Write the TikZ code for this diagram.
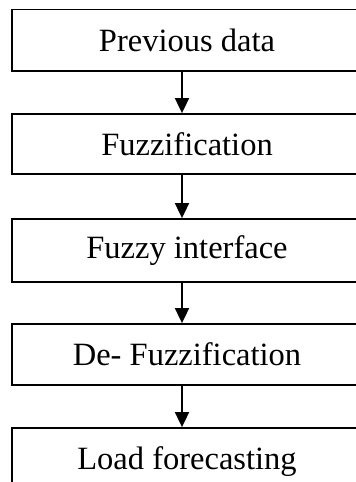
\documentclass[tikz,border=0pt]{standalone}
\usepackage{fontspec}
\setmainfont{Liberation Serif}
\usetikzlibrary{arrows.meta}
\begin{document}
\begin{tikzpicture}[x=1pt,y=-1pt,
  stepbox/.style={draw=black, line width=1.8pt, minimum width=350pt, inner sep=0pt,
    font=\fontsize{32.5}{38}\selectfont, anchor=center},
  flow/.style={line width=1.8pt, -{Triangle[width=14pt,length=15pt]}}]
\useasboundingbox (0,0) rectangle (356,482);
\clip (0,0) rectangle (356,482);
\node[stepbox, minimum height=61.5pt] (b1) at (187,40.25) {Previous data};
\node[stepbox, minimum height=60pt] (b2) at (187,144) {Fuzzification};
\node[stepbox, minimum height=63pt] (b3) at (187,250.5) {Fuzzy interface};
\node[stepbox, minimum height=61pt] (b4) at (187,354.5) {De- Fuzzification};
\node[stepbox, minimum height=68pt] (b5) at (187,462) {Load forecasting};
\foreach \a/\b in {b1/b2,b2/b3,b3/b4,b4/b5}
  \draw[flow] ([xshift=-5pt]\a.south) -- ([xshift=-5pt]\b.north);
\end{tikzpicture}
\end{document}
